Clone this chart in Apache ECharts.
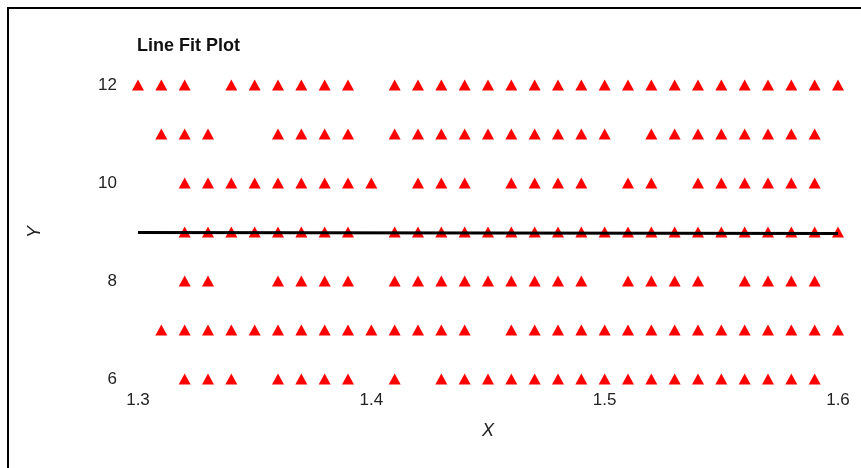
<!DOCTYPE html>
<html>
<head>
<meta charset="utf-8">
<script src="https://cdn.jsdelivr.net/npm/echarts@6/dist/echarts.min.js"></script>
<style>
  html, body { margin: 0; padding: 0; background: #fff; }
  #chart { width: 861px; height: 468px; }
</style>
</head>
<body>
<div id="chart"></div>
<script>
// x values of the triangles, one list per y level
const row12 = [1.30, 1.31, 1.32, 1.34, 1.35, 1.36, 1.37, 1.38, 1.39, 1.41, 1.42, 1.43, 1.44, 1.45, 1.46, 1.47, 1.48, 1.49, 1.50, 1.51, 1.52, 1.53, 1.54, 1.55, 1.56, 1.57, 1.58, 1.59, 1.60];
const row11 = [1.31, 1.32, 1.33, 1.36, 1.37, 1.38, 1.39, 1.41, 1.42, 1.43, 1.44, 1.45, 1.46, 1.47, 1.48, 1.49, 1.50, 1.52, 1.53, 1.54, 1.55, 1.56, 1.57, 1.58, 1.59];
const row10 = [1.32, 1.33, 1.34, 1.35, 1.36, 1.37, 1.38, 1.39, 1.40, 1.42, 1.43, 1.44, 1.46, 1.47, 1.48, 1.49, 1.51, 1.52, 1.54, 1.55, 1.56, 1.57, 1.58, 1.59];
const row9 = [1.32, 1.33, 1.34, 1.35, 1.36, 1.37, 1.38, 1.39, 1.41, 1.42, 1.43, 1.44, 1.45, 1.46, 1.47, 1.48, 1.49, 1.50, 1.51, 1.52, 1.53, 1.54, 1.55, 1.56, 1.57, 1.58, 1.59, 1.60];
const row8 = [1.32, 1.33, 1.36, 1.37, 1.38, 1.39, 1.41, 1.42, 1.43, 1.44, 1.45, 1.46, 1.47, 1.48, 1.49, 1.51, 1.52, 1.53, 1.54, 1.56, 1.57, 1.58, 1.59];
const row7 = [1.31, 1.32, 1.33, 1.34, 1.35, 1.36, 1.37, 1.38, 1.39, 1.40, 1.41, 1.42, 1.43, 1.44, 1.46, 1.47, 1.48, 1.49, 1.50, 1.51, 1.52, 1.53, 1.54, 1.55, 1.56, 1.57, 1.58, 1.59, 1.60];
const row6 = [1.32, 1.33, 1.34, 1.36, 1.37, 1.38, 1.39, 1.41, 1.43, 1.44, 1.45, 1.46, 1.47, 1.48, 1.49, 1.50, 1.51, 1.52, 1.53, 1.54, 1.55, 1.56, 1.57, 1.58, 1.59];

const rows = [[12, row12], [11, row11], [10, row10], [9, row9], [8, row8], [7, row7], [6, row6]];

// fitted line end points
const fitLine = [[1.30, 8.99], [1.60, 8.97]];

const points = [];
rows.forEach(([y, xs]) => xs.forEach(x => points.push([x, y])));

const chart = echarts.init(document.getElementById('chart'), null, {renderer: 'canvas'});

const labelFont = {color: '#222', fontSize: 17, fontFamily: 'Liberation Sans, Arial, sans-serif'};

chart.setOption({
  animation: false,
  backgroundColor: '#fff',
  title: {
    text: 'Line Fit Plot',
    left: 132,
    top: 32,
    textStyle: {color: '#111', fontSize: 18, fontWeight: 'bold', fontFamily: 'Liberation Sans, Arial, sans-serif'},
  },
  graphic: [{
    type: 'rect',
    shape: {x: 8, y: 8, width: 880, height: 490},
    style: {fill: 'none', stroke: '#000', lineWidth: 2},
    silent: true,
  }],
  grid: {left: 138, right: 23, top: 85, bottom: 89},
  xAxis: {
    type: 'value',
    min: 1.3,
    max: 1.6,
    interval: 0.1,
    name: 'X',
    nameLocation: 'middle',
    nameGap: 43,
    nameTextStyle: Object.assign({}, labelFont, {fontStyle: 'italic', fontSize: 18}),
    axisLine: {show: false},
    axisTick: {show: false},
    splitLine: {show: false},
    axisLabel: Object.assign({}, labelFont, {margin: 13, formatter: v => v.toFixed(1)}),
  },
  yAxis: {
    type: 'value',
    min: 6,
    max: 12,
    interval: 2,
    name: 'Y',
    nameLocation: 'middle',
    nameGap: 94,
    nameTextStyle: Object.assign({}, labelFont, {fontStyle: 'italic', fontSize: 18}),
    axisLine: {show: false},
    axisTick: {show: false},
    splitLine: {show: false},
    axisLabel: Object.assign({}, labelFont, {margin: 21}),
  },
  series: [
    {
      type: 'scatter',
      data: points,
      symbol: 'triangle',
      symbolSize: [12, 11],
      itemStyle: {color: '#ff0000', opacity: 1},
      z: 2,
    },
    {
      type: 'line',
      data: fitLine,
      showSymbol: false,
      lineStyle: {color: '#000', width: 3},
      z: 3,
    },
  ],
});
</script>
</body>
</html>
